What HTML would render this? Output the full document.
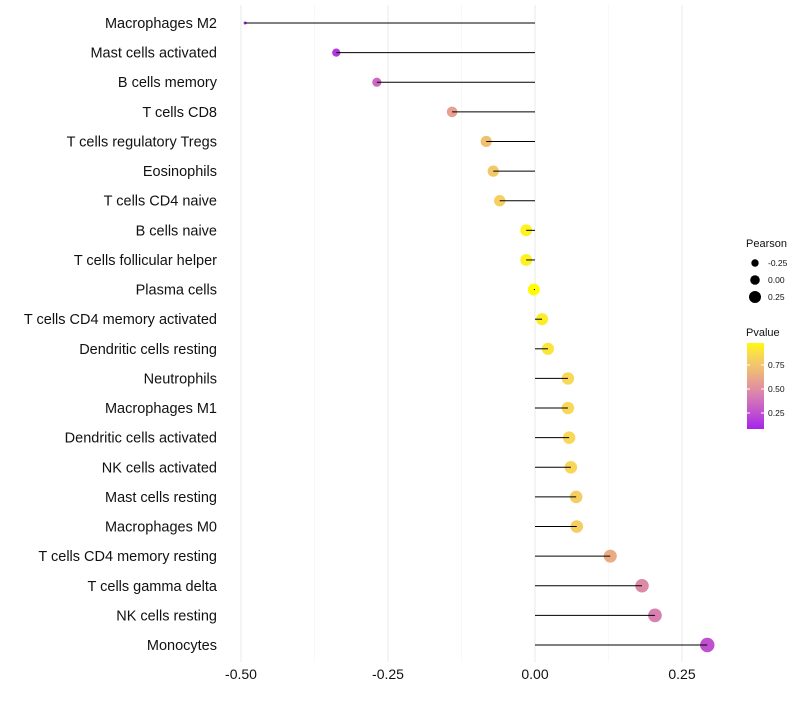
<!DOCTYPE html>
<html><head><meta charset="utf-8"><style>
body{margin:0;background:#fff;font-family:"Liberation Sans",sans-serif}
</style></head><body>
<svg id="c" width="800" height="700" xmlns="http://www.w3.org/2000/svg"></svg>
<script>
const categories=["Macrophages M2","Mast cells activated","B cells memory","T cells CD8","T cells regulatory  Tregs ","Eosinophils","T cells CD4 naive","B cells naive","T cells follicular helper","Plasma cells","T cells CD4 memory activated","Dendritic cells resting","Neutrophils","Macrophages M1","Dendritic cells activated","NK cells activated","Mast cells resting","Macrophages M0","T cells CD4 memory resting","T cells gamma delta","NK cells resting","Monocytes"];
const pearson=[-0.493,-0.338,-0.269,-0.141,-0.083,-0.071,-0.060,-0.015,-0.015,-0.002,0.012,0.022,0.056,0.056,0.058,0.061,0.070,0.071,0.128,0.182,0.204,0.293];
const pvalue=[0.02,0.1,0.3,0.55,0.7,0.75,0.8,0.95,0.95,0.99,0.93,0.9,0.85,0.85,0.85,0.84,0.78,0.78,0.6,0.45,0.4,0.2];
const xTicks=[-0.5,-0.25,0,0.25];
const xTickLabels=["-0.50","-0.25","0.00","0.25"];
const ns="http://www.w3.org/2000/svg",svg=document.getElementById('c');
const x=v=>535+v*588;
const y=i=>23+i*(622/21);
const r=v=>v>-0.34?Math.sqrt(17+55*(v+0.34)):Math.max(1.5,4-(-0.34-v)*17);
const stops=[[0,[160,32,240]],[0.2,[192,80,208]],[0.4,[216,128,176]],[0.55,[232,160,144]],[0.7,[240,192,112]],[0.85,[248,216,88]],[1,[255,255,0]]];
function col(p){for(let k=1;k<stops.length;k++){if(p<=stops[k][0]){const [p0,a]=stops[k-1],[p1,b]=stops[k];const t=(p-p0)/(p1-p0);return`rgb(${a.map((c,j)=>Math.round(c+(b[j]-c)*t)).join(',')})`}}return'rgb(255,255,0)'}
function el(t,at,txt){const e=document.createElementNS(ns,t);for(const k in at)e.setAttribute(k,at[k]);if(txt!=null)e.textContent=txt;svg.appendChild(e);return e}
[-0.375,-0.125,0.125].forEach(v=>{const g=el('line',{x1:x(v),x2:x(v),y1:5,y2:662,stroke:'#f3f3f3','stroke-width':0.6});

});
xTicks.forEach((v,i)=>{const g=el('line',{x1:x(v),x2:x(v),y1:5,y2:662,stroke:'#ebebeb','stroke-width':1.1});


const t=el('text',{x:x(v),y:679,'text-anchor':'middle','font-size':14,fill:'#111'},xTickLabels[i]);

});
categories.forEach((c,i)=>{
const t=el('text',{x:217,y:y(i)+5,'text-anchor':'end','font-size':14.5,fill:'#111'},c);


const d=el('circle',{cx:x(pearson[i]),cy:y(i),r:r(pearson[i]),fill:col(pvalue[i])});


const l=el('line',{x1:x(0),x2:x(pearson[i]),y1:y(i),y2:y(i),stroke:'#000','stroke-width':1});


});
let t=el('text',{x:746,y:247,'font-size':11,fill:'#111'},'Pearson');

[[-0.25,263,3.7],[0,280,4.8],[0.25,297,6]].forEach(a=>{
const c=el('circle',{cx:755,cy:a[1],r:a[2],fill:'#000'});

const s=el('text',{x:768,y:a[1]+3,'font-size':8.5,fill:'#111'},a[0].toFixed(2));
});
t=el('text',{x:746,y:336,'font-size':11,fill:'#111'},'Pvalue');

const defs=el('defs',{});const g=document.createElementNS(ns,'linearGradient');g.setAttribute('id','pg');g.setAttribute('x1',0);g.setAttribute('y1',1);g.setAttribute('x2',0);g.setAttribute('y2',0);defs.appendChild(g);
[0,0.1,0.2,0.3,0.4,0.5,0.6,0.7,0.8,0.9,1].forEach(o=>{const s=document.createElementNS(ns,'stop');s.setAttribute('offset',o);s.setAttribute('stop-color',col(0.02+o*0.96));g.appendChild(s);});
const bar=el('rect',{x:747,y:343,width:17,height:86,fill:'url(#pg)'});

[[0.75,365],[0.5,389],[0.25,413]].forEach(a=>{
el('line',{x1:747,x2:750,y1:a[1],y2:a[1],stroke:'#fff'});el('line',{x1:761,x2:764,y1:a[1],y2:a[1],stroke:'#fff'});
const s=el('text',{x:768,y:a[1]+3,'font-size':8.5,fill:'#111'},a[0].toFixed(2));
});
</script>
</body></html>
